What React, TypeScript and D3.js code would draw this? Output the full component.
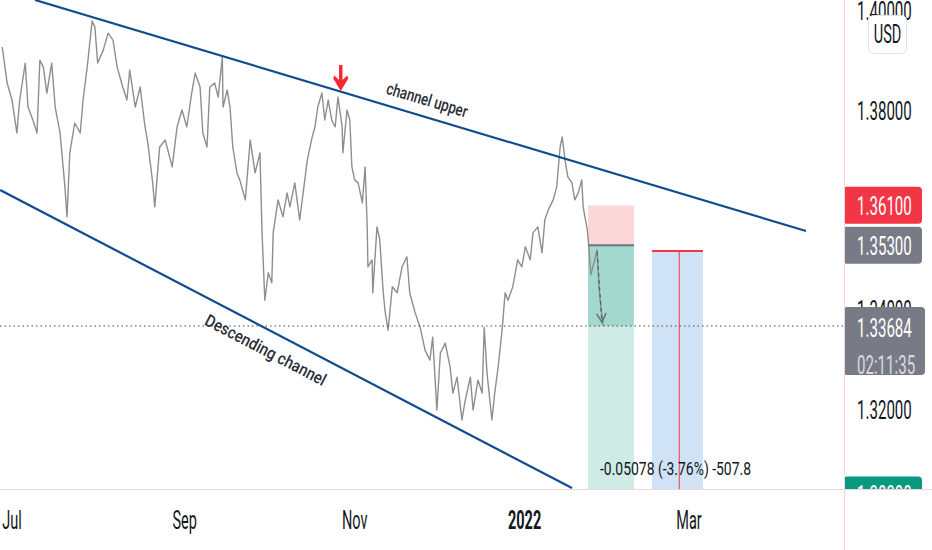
import * as d3 from "d3";

// GBP/USD hourly-ish trace (time, price)
const priceTimes = [
  "2021-06-27 12", "2021-06-29 06", "2021-07-01 00", "2021-07-02 18", "2021-07-03 18", "2021-07-05 18",
  "2021-07-06 18", "2021-07-08 12", "2021-07-10 00", "2021-07-11 00", "2021-07-12 06", "2021-07-13 12",
  "2021-07-15 06", "2021-07-16 12", "2021-07-18 06", "2021-07-20 00", "2021-07-20 18", "2021-07-21 18",
  "2021-07-23 12", "2021-07-25 12", "2021-07-26 12", "2021-07-28 00", "2021-07-29 18", "2021-07-30 18",
  "2021-07-31 18", "2021-08-02 18", "2021-08-04 12", "2021-08-06 06", "2021-08-07 18", "2021-08-09 18",
  "2021-08-11 06", "2021-08-12 06", "2021-08-14 06", "2021-08-16 00", "2021-08-17 18", "2021-08-18 18",
  "2021-08-20 12", "2021-08-21 06", "2021-08-23 00", "2021-08-25 00", "2021-08-27 12", "2021-08-29 06",
  "2021-08-31 00", "2021-09-01 18", "2021-09-03 12", "2021-09-04 18", "2021-09-06 12", "2021-09-07 12",
  "2021-09-09 00", "2021-09-10 00", "2021-09-11 18", "2021-09-13 00", "2021-09-14 12", "2021-09-14 18",
  "2021-09-16 06", "2021-09-17 06", "2021-09-18 06", "2021-09-19 18", "2021-09-20 18", "2021-09-22 18",
  "2021-09-24 12", "2021-09-26 06", "2021-09-28 00", "2021-09-28 18", "2021-09-29 18", "2021-10-01 00",
  "2021-10-02 06", "2021-10-02 18", "2021-10-04 12", "2021-10-06 06", "2021-10-07 18", "2021-10-08 18",
  "2021-10-10 12", "2021-10-12 06", "2021-10-13 12", "2021-10-15 00", "2021-10-16 18", "2021-10-17 18",
  "2021-10-18 18", "2021-10-20 06", "2021-10-21 06", "2021-10-22 12", "2021-10-23 18", "2021-10-25 00",
  "2021-10-26 00", "2021-10-27 12", "2021-10-27 18", "2021-10-29 06", "2021-10-30 06", "2021-10-31 00",
  "2021-11-01 00", "2021-11-02 06", "2021-11-03 18", "2021-11-04 18", "2021-11-05 12", "2021-11-05 18",
  "2021-11-07 06", "2021-11-07 12", "2021-11-09 00", "2021-11-10 00", "2021-11-11 06", "2021-11-12 00",
  "2021-11-13 00", "2021-11-14 12", "2021-11-16 06", "2021-11-18 00", "2021-11-19 18", "2021-11-20 18",
  "2021-11-22 18", "2021-11-24 12", "2021-11-26 06", "2021-11-28 00", "2021-11-29 00", "2021-11-30 12",
  "2021-12-01 18", "2021-12-03 12", "2021-12-05 06", "2021-12-06 06", "2021-12-07 18", "2021-12-09 12",
  "2021-12-10 12", "2021-12-12 12", "2021-12-13 12", "2021-12-15 06", "2021-12-16 18", "2021-12-17 12",
  "2021-12-18 12", "2021-12-20 06", "2021-12-21 06", "2021-12-22 12", "2021-12-24 00", "2021-12-25 00",
  "2021-12-26 00", "2021-12-27 18", "2021-12-29 12", "2021-12-31 00", "2022-01-01 06", "2022-01-03 00",
  "2022-01-04 00", "2022-01-05 18", "2022-01-07 06", "2022-01-08 06", "2022-01-09 12", "2022-01-11 06",
  "2022-01-12 12", "2022-01-13 18", "2022-01-14 12", "2022-01-15 12", "2022-01-16 12", "2022-01-18 00",
  "2022-01-19 00", "2022-01-20 06", "2022-01-21 12", "2022-01-22 00", "2022-01-23 12", "2022-01-24 00",
  "2022-01-24 18", "2022-01-26 00", "2022-01-27 00", "2022-01-27 18", "2022-01-28 12", "2022-01-29 06",
];
const priceValues = [
  1.3927, 1.3855, 1.3821, 1.3755, 1.3821, 1.3895,
  1.3807, 1.3781, 1.3755, 1.3901, 1.3887, 1.3835,
  1.3895, 1.3807, 1.3755, 1.3647, 1.3587, 1.3715,
  1.3775, 1.3755, 1.3821, 1.3887, 1.3979, 1.3967,
  1.3895, 1.3921, 1.3955, 1.3941, 1.3887, 1.3847,
  1.3821, 1.3881, 1.3807, 1.3847, 1.3767, 1.3735,
  1.3655, 1.3607, 1.3727, 1.3741, 1.3687, 1.3767,
  1.3801, 1.3767, 1.3835, 1.3875, 1.3847, 1.3755,
  1.3727, 1.3847, 1.3855, 1.3827, 1.3907, 1.3807,
  1.3841, 1.3807, 1.3727, 1.3675, 1.3661, 1.3621,
  1.3741, 1.3675, 1.3715, 1.3555, 1.342, 1.3475,
  1.3455, 1.3555, 1.3621, 1.3587, 1.3635, 1.3607,
  1.3655, 1.3581, 1.3635, 1.3701, 1.3747, 1.3767,
  1.3807, 1.3835, 1.3781, 1.3821, 1.3781, 1.3767,
  1.3827, 1.3767, 1.3715, 1.3801, 1.3781, 1.3687,
  1.3661, 1.3655, 1.3615, 1.3687, 1.3567, 1.3487,
  1.3501, 1.3435, 1.3567, 1.3541, 1.3435, 1.3394,
  1.336, 1.3447, 1.3435, 1.3487, 1.3507, 1.3435,
  1.3394, 1.3366, 1.332, 1.33, 1.3346, 1.32,
  1.3314, 1.3334, 1.3286, 1.3234, 1.3266, 1.318,
  1.3214, 1.3266, 1.32, 1.326, 1.3234, 1.3366,
  1.3274, 1.318, 1.3234, 1.3286, 1.3366, 1.3435,
  1.342, 1.3447, 1.3501, 1.3487, 1.3527, 1.3501,
  1.3555, 1.3567, 1.3515, 1.3581, 1.3601, 1.3621,
  1.3647, 1.3727, 1.3747, 1.3701, 1.3667, 1.3655,
  1.3621, 1.3635, 1.3661, 1.3607, 1.3561, 1.353,
  1.3471, 1.3497, 1.3521, 1.3441, 1.34, 1.33684,
];

// trend lines (two anchors each)
const upperTimes = ["2021-07-09 06", "2022-04-12 00"];
const upperPrices = [1.40214, 1.35587];
const lowerTimes = ["2021-06-26 18", "2022-01-18 00"];
const lowerPrices = [1.36408, 1.30439];

const priceTicks = [1.4, 1.38, 1.36, 1.34, 1.32, 1.3];
const timeTicks = ["2021-07-01 00", "2021-09-01 00", "2021-11-01 00", "2022-01-01 00", "2022-03-01 00"];
const timeLabels = ["Jul", "Sep", "Nov", "2022", "Mar"];

// short position tool
const shortTimes = ["2022-01-23 18", "2022-02-09 06"];
const stopPrice = 1.361;
const entryPrice = 1.353;
const targetPrice = 1.303;
const lastPrice = 1.33684;
const countdown = "02:11:35";

// price range tool
const rangeTimes = ["2022-02-15 18", "2022-02-25 12", "2022-03-06 00"];
const rangePrices = [1.35188, 1.3011];
const rangeLabel = "-0.05078 (-3.76%) -507.8";

const arrowTimes = ["2022-01-27 00", "2022-01-28 18"];
const arrowPrices = [1.3517, 1.3376];
const markerTime = "2021-10-27 00";
const markerPrice = 1.3839;

const W = 932;
const H = 550;
const paneR = 844;
const paneB = 489;
const FONT = "Roboto, 'Noto Sans', sans-serif";
const SQ = 0.58;

const parse = d3.timeParse("%Y-%m-%d %H");
const t = (s: string) => parse(s) as Date;

function SText({ x, y, children, anchor = "start", fill = "#131722", size = 26, weight = 400 }: any) {
  return (
    <text
      transform={`translate(${x},${y}) scale(${SQ},1)`}
      textAnchor={anchor}
      fill={fill}
      fontSize={size}
      fontWeight={weight}
      fontFamily={FONT}
    >
      {children}
    </text>
  );
}

export default function App() {
  const x = d3.scaleTime().domain([t("2021-07-01 00"), t("2022-03-01 00")]).range([12, 689]);
  const y = d3.scaleLinear().domain([1.3, 1.4]).range([509.9, 10.66]);

  const line = d3
    .line<number>()
    .x((_, i) => x(t(priceTimes[i])))
    .y((v) => y(v));

  const trend = (times: string[], prices: number[]) => {
    const x1 = x(t(times[0]));
    const y1 = y(prices[0]);
    const x2 = x(t(times[1]));
    const y2 = y(prices[1]);
    return { x1, y1, x2, y2, ang: (Math.atan2(y2 - y1, x2 - x1) * 180) / Math.PI };
  };
  const up = trend(upperTimes, upperPrices);
  const lo = trend(lowerTimes, lowerPrices);
  const onLine = (l: any, xx: number) => l.y1 + ((xx - l.x1) * (l.y2 - l.y1)) / (l.x2 - l.x1);

  const upLabelX = x(t("2021-11-25 06"));
  const loLabelX = x(t("2021-10-03 06"));

  const sx1 = x(t(shortTimes[0]));
  const sx2 = x(t(shortTimes[1]));
  const rx1 = x(t(rangeTimes[0]));
  const rxm = x(t(rangeTimes[1]));
  const rx2 = x(t(rangeTimes[2]));

  const ax1 = x(t(arrowTimes[0]));
  const ay1 = y(arrowPrices[0]);
  const ax2 = x(t(arrowTimes[1]));
  const ay2 = y(arrowPrices[1]);
  const aAng = Math.atan2(ay2 - ay1, ax2 - ax1);
  const head = (d: number) =>
    `${ax2 + 10 * Math.cos(aAng + Math.PI - d)},${ay2 + 10 * Math.sin(aAng + Math.PI - d)}`;

  const mx = x(t(markerTime));
  const my = y(markerPrice);

  const labelBox = (price: number, fill: string, text: string, key: string) => {
    const cy = y(price);
    return (
      <g key={key}>
        <rect x={843} y={cy - 18.5} width={79} height={37} rx={4} fill={fill} />
        <SText x={857} y={cy + 9.2} fill="#ffffff">
          {text}
        </SText>
      </g>
    );
  };

  const yLast = y(lastPrice);

  return (
    <svg width={W} height={H} style={{ position: "absolute", left: 0, top: 0, background: "#fff" }}>
      <defs>
        <clipPath id="pane">
          <rect x={0} y={0} width={paneR} height={paneB} />
        </clipPath>
        <clipPath id="axis">
          <rect x={paneR} y={0} width={W - paneR} height={paneB} />
        </clipPath>
      </defs>
      <rect x={0} y={0} width={W} height={H} fill="#ffffff" />

      <g clipPath="url(#pane)">
        {/* short position */}
        <rect x={sx1} y={y(stopPrice)} width={sx2 - sx1} height={y(entryPrice) - y(stopPrice)} fill="#fcd7da" />
        <rect x={sx1} y={y(entryPrice)} width={sx2 - sx1} height={y(targetPrice) - y(entryPrice)} fill="#ceebe6" />
        <rect x={sx1} y={y(entryPrice)} width={sx2 - sx1} height={yLast - y(entryPrice)} fill="#a3d8ce" />

        {/* price range */}
        <rect x={rx1} y={y(rangePrices[0])} width={rx2 - rx1} height={y(rangePrices[1]) - y(rangePrices[0])} fill="#cfe2f6" />
        <line x1={rxm} x2={rxm} y1={y(rangePrices[0])} y2={y(rangePrices[1])} stroke="#f23645" strokeWidth={1} />
        <line x1={rx1} x2={rx2} y1={y(rangePrices[0])} y2={y(rangePrices[0])} stroke="#f23645" strokeWidth={2} />
        <text
          x={(rx1 + rx2) / 2 - 2}
          y={475}
          textAnchor="middle"
          fontSize={19}
          fontFamily={FONT}
          fill="#131722"
          textLength={151}
          lengthAdjust="spacingAndGlyphs"
        >
          {rangeLabel}
        </text>

        {/* price trace */}
        <path d={line(priceValues) || ""} fill="none" stroke="#8e8e8e" strokeWidth={1.4} strokeLinejoin="round" />

        <line x1={sx1} x2={sx2} y1={y(entryPrice)} y2={y(entryPrice)} stroke="#6f737d" strokeWidth={2} />

        {/* projected move arrow */}
        <line x1={ax1} y1={ay1} x2={ax2} y2={ay2} stroke="#5d606b" strokeWidth={1.3} strokeDasharray="4 3" />
        <polyline points={`${head(0.5)} ${ax2},${ay2} ${head(-0.5)}`} fill="none" stroke="#5d606b" strokeWidth={1.3} />

        {/* last price */}
        <line x1={0} x2={paneR} y1={yLast} y2={yLast} stroke="#4a4a4a" strokeWidth={1.2} strokeDasharray="1.5 3" />

        {/* channel */}
        <line x1={up.x1} y1={up.y1} x2={up.x2} y2={up.y2} stroke="#104c8e" strokeWidth={2.2} />
        <line x1={lo.x1} y1={lo.y1} x2={lo.x2} y2={lo.y2} stroke="#104c8e" strokeWidth={2.2} />
        <text
          transform={`translate(${upLabelX},${onLine(up, upLabelX)}) rotate(${up.ang})`}
          y={-11}
          textAnchor="middle"
          fontSize={17}
          fontWeight={500}
          fontFamily={FONT}
          fill="#2a2e39"
          textLength={84}
          lengthAdjust="spacingAndGlyphs"
        >
          channel upper
        </text>
        <text
          transform={`translate(${loLabelX},${onLine(lo, loLabelX)}) rotate(${lo.ang})`}
          y={25}
          textAnchor="middle"
          fontSize={17}
          fontWeight={500}
          fontFamily={FONT}
          fill="#2a2e39"
          textLength={134}
          lengthAdjust="spacingAndGlyphs"
        >
          Descending channel
        </text>

        {/* sell marker */}
        <path
          d={`M${mx - 1.7},${my - 26} L${mx + 1.7},${my - 26} L${mx + 1.7},${my - 11} L${mx + 6.5},${my - 15.5} L${mx + 7.5},${my - 12.5} L${mx},${my} L${mx - 7.5},${my - 12.5} L${mx - 6.5},${my - 15.5} L${mx - 1.7},${my - 11} Z`}
          fill="#f7262e"
        />
      </g>

      {/* right price scale */}
      <g clipPath="url(#axis)">
        {priceTicks.map((p) => (
          <SText key={p} x={857} y={y(p) + 9.2}>
            {p.toFixed(5)}
          </SText>
        ))}
        <rect x={868.5} y={15.5} width={38} height={38} rx={5} fill="#ffffff" stroke="#e0e3eb" />
        <SText x={887.5} y={43} anchor="middle" size={25}>
          USD
        </SText>
        {labelBox(stopPrice, "#f23645", stopPrice.toFixed(5), "stop")}
        {labelBox(entryPrice, "#787b86", entryPrice.toFixed(5), "entry")}
        {labelBox(targetPrice, "#089981", targetPrice.toFixed(5), "target")}
        <g>
          <rect x={843} y={yLast - 19} width={82} height={68} rx={4} fill="#787b86" />
          <SText x={857} y={yLast + 11} fill="#ffffff">
            {lastPrice.toFixed(5)}
          </SText>
          <SText x={857} y={yLast + 48} fill="#d8dae0">
            {countdown}
          </SText>
        </g>
      </g>

      {/* time scale */}
      {timeTicks.map((d, i) => (
        <SText key={d} x={x(t(d))} y={529} anchor="middle" size={25} weight={timeLabels[i] === "2022" ? 700 : 400}>
          {timeLabels[i]}
        </SText>
      ))}

      {/* pane borders */}
      <line x1={0} x2={W} y1={paneB + 0.5} y2={paneB + 0.5} stroke="#f6d3d9" strokeWidth={1} />
      <line x1={paneR + 0.5} x2={paneR + 0.5} y1={0} y2={H} stroke="#f6d3d9" strokeWidth={1} />
    </svg>
  );
}
